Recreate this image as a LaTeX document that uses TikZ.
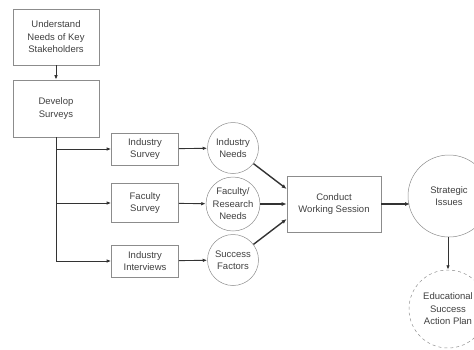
\documentclass[tikz,border=0pt]{standalone}
\usepackage{fontspec}
\setmainfont{Liberation Sans}
\usetikzlibrary{arrows.meta}
\begin{document}
\begin{tikzpicture}[x=1pt,y=-1pt,
  box/.style={draw=black!45,line width=0.6pt,align=center,inner sep=0pt,font=\fontsize{9.5}{12.5}\selectfont,text=black!75},
  circ/.style={draw=black!45,line width=0.5pt,circle,align=center,inner sep=0pt,font=\fontsize{9.5}{12.5}\selectfont,text=black!75},
  arr/.style={-{Latex[length=4.5pt,width=3.5pt]},line width=0.9pt,draw=black!80},
  thick arr/.style={-{Latex[length=5pt,width=4pt]},line width=1.4pt,draw=black!80}]
\useasboundingbox (0,0) rectangle (474,349);
\node[box,minimum width=86pt,minimum height=56pt] (und) at (56,37) {Understand\\Needs of Key\\Stakeholders};
\node[box,minimum width=86pt,minimum height=57pt] (dev) at (56,108.5) {Develop\\Surveys};
\node[box,minimum width=67pt,minimum height=32pt] (is) at (145,149) {Industry\\Survey};
\node[box,minimum width=67pt,minimum height=39pt] (fs) at (145,203) {Faculty\\Survey};
\node[box,minimum width=67pt,minimum height=32pt] (ii) at (145,261) {Industry\\Interviews};
\node[circ,minimum size=51pt] (in) at (233,148) {Industry\\Needs};
\node[circ,minimum size=54pt] (frn) at (233,204) {Faculty/\\Research\\Needs};
\node[circ,minimum size=51pt] (sf) at (233,260) {Success\\Factors};
\node[box,minimum width=94pt,minimum height=56pt] (cws) at (334,204) {Conduct\\Working Session};
\node[circ,minimum size=82pt] (si) at (449,196) {Strategic\\Issues};
\node[circ,dashed,minimum size=78pt] (esap) at (448,309) {Educational\\Success\\Action Plan};
\coordinate (j0) at (56,137);
\coordinate (j1) at (56,149);
\coordinate (j2) at (56,203);
\coordinate (j3) at (56,261);
\coordinate (sit) at (410,204);
\draw[arr] (und) -- (dev);
\draw[line width=0.9pt,draw=black!80] (j0) -- (j3);
\draw[arr] (j1) -- (is);
\draw[arr] (j2) -- (fs);
\draw[arr] (j3) -- (ii);
\draw[arr] (is) -- (in);
\draw[arr] (fs) -- (frn);
\draw[arr] (ii) -- (sf);
\draw[thick arr] (in) -- (cws.west |- 0,189);
\draw[thick arr] (frn) -- (cws.west |- 0,204);
\draw[thick arr] (sf) -- (cws.west |- 0,219);
\draw[thick arr] (cws.east) -- (sit);
\draw[arr] (si.south -| esap.north) -- (esap.north);
\end{tikzpicture}
\end{document}
